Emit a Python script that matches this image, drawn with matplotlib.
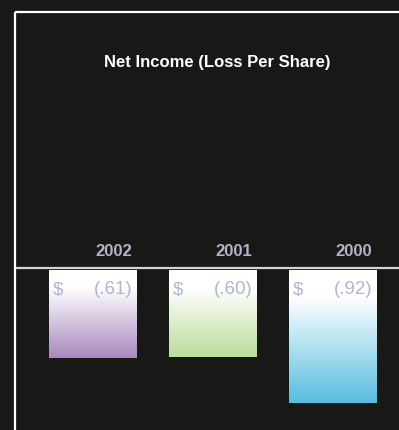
import numpy as np
import matplotlib
matplotlib.use("Agg")
import matplotlib.pyplot as plt
from matplotlib.colors import LinearSegmentedColormap

years = ["2002", "2001", "2000"]
values = [-0.61, -0.60, -0.92]
value_labels = ["(.61)", "(.60)", "(.92)"]
bar_colors = ["#a888bf", "#bcdc9c", "#58bde0"]
title = "Net Income (Loss Per Share)"

FAM = ["Liberation Sans", "DejaVu Sans"]

BG = "#181816"
W, H = 399, 431
fig = plt.figure(figsize=(W / 100, H / 100), dpi=100, facecolor=BG)

# frame lines in pixel space
ov = fig.add_axes([0, 0, 1, 1])
ov.set_xlim(0, W)
ov.set_ylim(H, 0)
ov.axis("off")
ov.set_facecolor("none")
ov.plot([14.5, 14.5], [H + 5, 12.5], color="white", lw=1.6, solid_capstyle="butt")
ov.plot([14.5, W + 5], [12.5, 12.5], color="white", lw=1.6, solid_capstyle="butt")
ov.plot([15.5, W + 5], [269, 269], color="#d4d4d4", lw=1.6, solid_capstyle="butt")

# bar axes: x=-0.5 -> px 33.1, x=2.5 -> px 392.4; y=0 -> px 271
left_px, right_px = 33.1, 392.4
top_px, bot_px = 271, H
scale = 144.5
ax = fig.add_axes([left_px / W, 0, (right_px - left_px) / W, (bot_px - top_px) / H])
ax.axis("off")
ax.set_facecolor("none")

x = np.arange(len(years))
unit = (right_px - left_px) / 3
width = 88 / unit
bars = ax.bar(x, values, width=width, color="white", linewidth=0, zorder=1)
for i, (b, c) in enumerate(zip(bars, bar_colors)):
    cmap = LinearSegmentedColormap.from_list("g", [(0, "white"), (0.2, "white"), (1, c)])
    grad = np.linspace(0, 1, 256).reshape(-1, 1)
    x0 = b.get_x()
    im = ax.imshow(grad, aspect="auto", cmap=cmap, origin="upper",
                   extent=[x0, x0 + width, values[i], 0], zorder=2)
    im.set_clip_path(b)
    ax.text(x0 + 4 / unit, -19 / scale, "$", ha="left", va="center", fontsize=13.5,
            color="#b3b5d0", family=FAM, zorder=3)
    ax.text(x0 + width - 4.5 / unit, -19 / scale, value_labels[i], ha="right", va="center",
            fontsize=13.5, color="#b3b5d0", family=FAM, zorder=3)
    ax.text(x[i] + 21 / unit, 19 / scale, years[i], ha="center", va="center",
            fontsize=12, fontweight="bold", color="#b3b4cc", family=FAM,
            clip_on=False, zorder=3)

ax.set_xlim(-0.5, 2.5)
ax.set_ylim(-(bot_px - top_px) / scale, 0)

fig.text(217.5 / W, 1 - 62 / H, title, ha="center", va="center", fontsize=12,
         fontweight="bold", color="white", family=FAM)

fig.savefig("out.png", dpi=100, facecolor=BG)
